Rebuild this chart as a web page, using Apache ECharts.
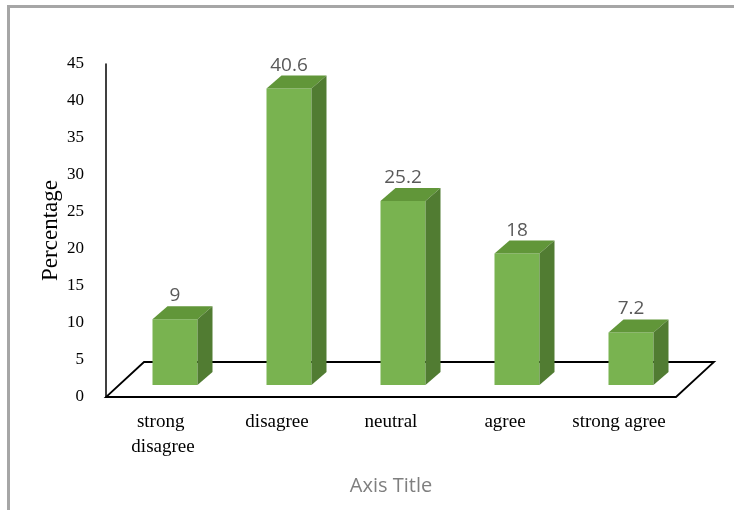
<!DOCTYPE html>
<html>
<head>
<meta charset="utf-8">
<script src="https://cdn.jsdelivr.net/npm/echarts@6/dist/echarts.min.js"></script>
<style>
html,body{margin:0;padding:0;background:#fff;}
#chart{width:734px;height:510px;}
</style>
</head>
<body>
<div id="chart"></div>
<script>
const categories = ['strong disagree', 'disagree', 'neutral', 'agree', 'strong agree'];
const values = [9, 40.6, 25.2, 18, 7.2];
const yMin = 0, yMax = 45, yInterval = 5;
const yAxisName = 'Percentage';
const xAxisName = 'Axis Title';

const FRONT = '#79B350', TOP = '#619639', SIDE = '#517C32';
const serif = "'Liberation Serif', 'Times New Roman', serif";
const sans = "'Liberation Sans Narrow', 'Open Sans', 'Noto Sans', sans-serif";

const chart = echarts.init(document.getElementById('chart'));
chart.setOption({
  animation: false,
  backgroundColor: '#fff',
  graphic: [
    { type: 'line', shape: { x1: 7, y1: 6.5, x2: 734, y2: 6.5 }, style: { stroke: '#a6a6a6', lineWidth: 3 } },
    { type: 'line', shape: { x1: 8.5, y1: 5, x2: 8.5, y2: 510 }, style: { stroke: '#a6a6a6', lineWidth: 3 } }
  ],
  grid: [
    { left: 106, top: 64, width: 570, height: 333 },
    { left: 118, top: 56.5, width: 570, height: 328.5 }
  ],
  xAxis: [
    {
      gridIndex: 0, type: 'category', data: categories,
      axisLine: { show: false }, axisTick: { show: false },
      axisLabel: {
        color: '#000', fontFamily: serif, fontSize: 19, margin: 13,
        lineHeight: 25, width: 105, overflow: 'break', interval: 0
      },
      name: xAxisName, nameLocation: 'middle', nameGap: 79, nameMoveOverlap: false,
      nameTextStyle: { color: '#7f7f7f', fontFamily: sans, fontSize: 20 }
    },
    { gridIndex: 1, type: 'category', data: categories, show: false }
  ],
  yAxis: [
    {
      gridIndex: 0, type: 'value', min: yMin, max: yMax, interval: yInterval,
      axisLine: { show: true, lineStyle: { color: '#000', width: 1.5 } },
      axisTick: { show: false }, splitLine: { show: false },
      axisLabel: { color: '#000', fontFamily: serif, fontSize: 17, margin: 22 },
      name: yAxisName, nameLocation: 'middle', nameGap: 44, nameRotate: 90, nameMoveOverlap: false,
      nameTextStyle: { color: '#000', fontFamily: serif, fontSize: 23 }
    },
    { gridIndex: 1, type: 'value', min: yMin, max: yMax, interval: yInterval, show: false }
  ],
  series: [
    {
      type: 'custom', xAxisIndex: 0, yAxisIndex: 0, silent: true,
      data: [[0, 0]],
      renderItem: function (params, api) {
        const band = api.size([1, 0])[0];
        const l = api.coord([0, 0]);
        const r = api.coord([categories.length - 1, 0]);
        const x0 = l[0] - band / 2, x1 = r[0] + band / 2, y = l[1];
        return {
          type: 'polygon',
          shape: { points: [[x0, y], [x1, y], [x1 + 38, y - 35], [x0 + 38, y - 35]] },
          style: { fill: '#fff', stroke: '#000', lineWidth: 1.8 }
        };
      }
    },
    {
      type: 'custom', xAxisIndex: 1, yAxisIndex: 1, silent: true,
      data: values.map((v, i) => [i, v]),
      renderItem: function (params, api) {
        const base = api.coord([api.value(0), 0]);
        const top = api.coord([api.value(0), api.value(1)]);
        const w = 45, dx = 15, dy = 13;
        const xl = base[0] - w / 2, xr = base[0] + w / 2, yb = base[1], yt = top[1];
        return {
          type: 'group',
          children: [
            { type: 'rect', shape: { x: xl, y: yt, width: w, height: yb - yt }, style: { fill: FRONT } },
            { type: 'polygon', shape: { points: [[xl, yt], [xr, yt], [xr + dx, yt - dy], [xl + dx, yt - dy]] }, style: { fill: TOP } },
            { type: 'polygon', shape: { points: [[xr, yt], [xr, yb], [xr + dx, yb - dy], [xr + dx, yt - dy]] }, style: { fill: SIDE } },
            {
              type: 'text', x: base[0], y: yt - dy - 1,
              style: {
                text: String(api.value(1)), fill: '#595959', fontFamily: sans, fontSize: 19,
                align: 'center', verticalAlign: 'bottom'
              }
            }
          ]
        };
      }
    }
  ]
});
</script>
</body>
</html>
